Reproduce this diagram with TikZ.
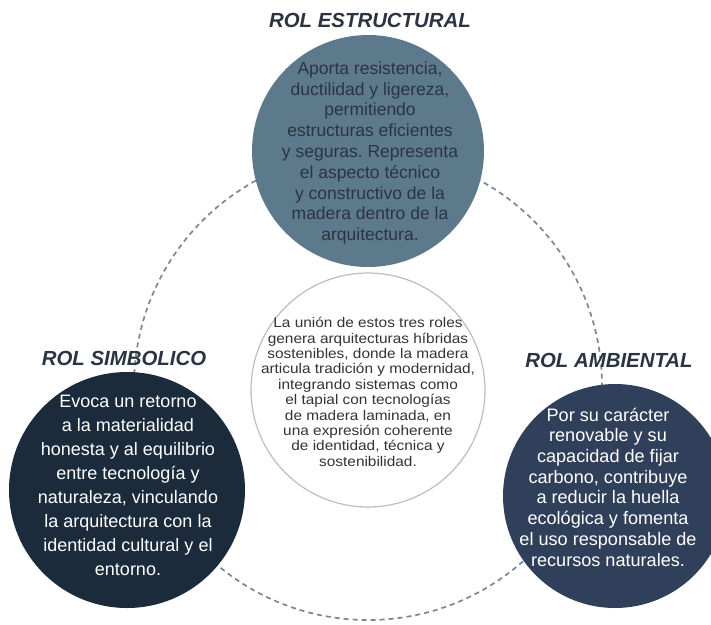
\documentclass[tikz,border=0pt]{standalone}
\usepackage{fontspec}
\setmainfont{Liberation Sans}
\newfontfamily\anchasans{Liberation Sans}[FakeStretch=1.1]
\usetikzlibrary{positioning}
\frenchspacing
\definecolor{azulpiedra}{HTML}{5D798C}
\definecolor{azulnoche}{HTML}{1B2B3B}
\definecolor{azulpizarra}{HTML}{31405A}
\definecolor{tinta}{HTML}{2A3442}
\definecolor{trazo}{HTML}{7A8794}
\definecolor{borde}{HTML}{BDBDBD}

\begin{document}
\begin{tikzpicture}[x=1pt,y=-1pt,
disco/.style={circle,inner sep=0pt,minimum size=#1},
rotulo/.style={font=\fontsize{20.4}{24}\selectfont\bfseries\itshape,text=tinta,inner sep=0pt},
cuerpo/.style={align=center,inner sep=0pt}]
\clip (0,0) rectangle (711,624);
\coordinate (eje) at (368,386);
\draw[trazo,line width=1.7pt,dash pattern=on 5pt off 4pt] (eje) circle [radius=234];
% los tres roles
\node[disco=232pt,fill=azulpiedra] (estructural) at (368,151) {};
\node[disco=236pt,fill=azulnoche] (simbolico) at (127,490) {};
\node[disco=224pt,fill=azulpizarra] (ambiental) at (615,496) {};
\node[disco=234pt,fill=white,draw=borde,line width=1.2pt] (union) at (368,390) {};
\node[rotulo] (estructurallab) at (370,20) {ROL ESTRUCTURAL};
\node[rotulo] (simbolicolab) at (124,358) {ROL SIMBOLICO};
\node[rotulo] (ambientallab) at (609,360) {ROL AMBIENTAL};
\node[cuerpo,text=tinta,font=\fontsize{17.5}{20.8}\selectfont] (estructuraltxt) at (370,153)
{Aporta resistencia,\\ductilidad y ligereza,\\permitiendo\\estructuras eficientes\\y seguras. Representa\\el aspecto t\'ecnico\\y constructivo de la\\madera dentro de la\\arquitectura.};
\node[cuerpo,text=white,font=\fontsize{18}{24}\selectfont] (simbolicotxt) at (128,485)
{Evoca un retorno\\a la materialidad\\honesta y al equilibrio\\entre tecnolog\'ia y\\naturaleza, vinculando\\la arquitectura con la\\identidad cultural y el\\entorno.};
\node[cuerpo,text=white,font=\fontsize{18.1}{20.7}\selectfont] (ambientaltxt) at (608,487)
{Por su car\'acter\\renovable y su\\capacidad de fijar\\carbono, contribuye\\a reducir la huella\\ecol\'ogica y fomenta\\el uso responsable de\\recursos naturales.};
\node[cuerpo,text=black!80,font=\anchasans\fontsize{14}{15.4}\selectfont] (uniontxt) at (368,392)
{La uni\'on de estos tres roles\\genera arquitecturas h\'ibridas\\sostenibles, donde la madera\\articula tradici\'on y modernidad,\\integrando sistemas como\\el tapial con tecnolog\'ias\\de madera laminada, en\\una expresi\'on coherente\\de identidad, t\'ecnica y\\sostenibilidad.};
\end{tikzpicture}
\end{document}
